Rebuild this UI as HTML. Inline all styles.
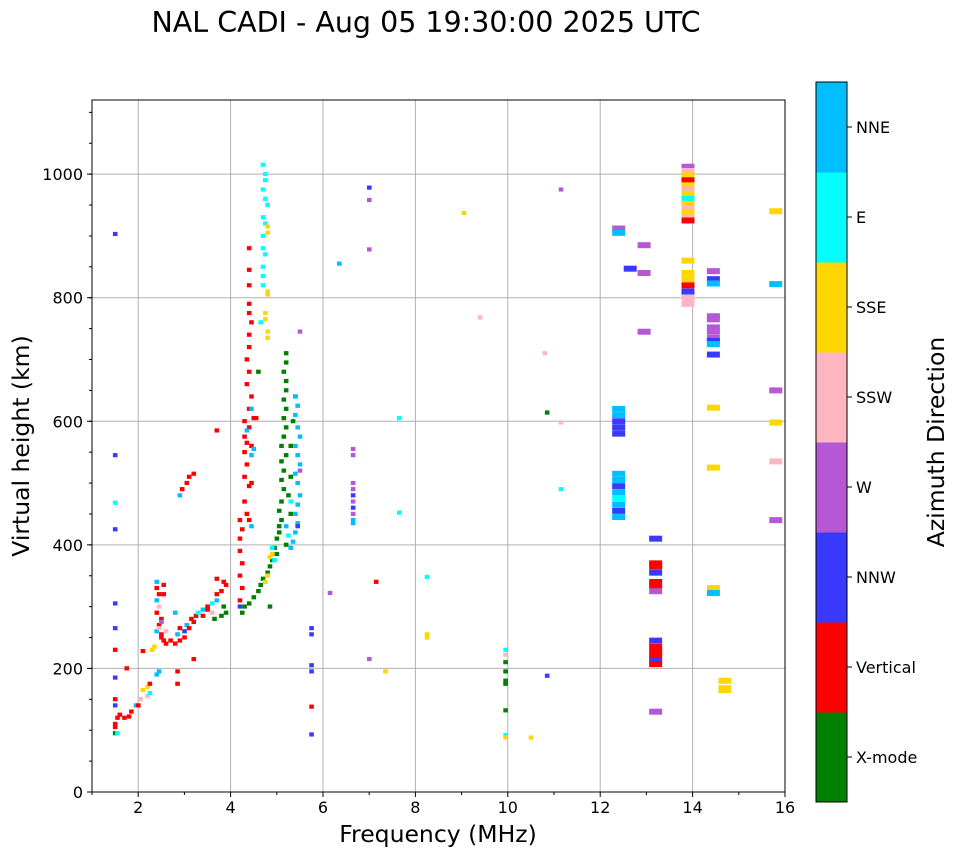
<!DOCTYPE html>
<html><head><meta charset="utf-8"><style>
body{margin:0;background:#fff;font-family:"DejaVu Sans","Liberation Sans",sans-serif}
</style></head><body>
<svg id="c" width="958" height="857" xmlns="http://www.w3.org/2000/svg" font-family="DejaVu Sans, Liberation Sans, sans-serif">
<text x="426" y="32" font-size="28.5" text-anchor="middle">NAL CADI - Aug 05 19:30:00 2025 UTC</text>
<g id="grid"></g><g id="marks"></g><g id="axes"></g><g id="cbar"></g>
</svg>
<script>
const modeNames=["X-mode","Vertical","NNW","W","SSW","SSE","E","NNE"];
const modeColors=["#008000","#ff0000","#3a3aff","#b657d6","#ffb6c1","#ffd700","#00ffff","#00bfff"];
const xTicks=[2,4,6,8,10,12,14,16];
const yTicks=[0,200,400,600,800,1000];
const freqs=[1.5,1.55,1.5,1.5,1.55,1.5,1.5,1.6,1.7,1.8,1.85,1.95,2.0,2.05,2.1,2.2,2.25,2.2,2.25,2.4,2.45,2.3,2.35,2.1,1.5,1.5,1.5,1.5,1.5,1.5,1.5,1.5,1.75,
2.4,2.4,2.45,2.4,2.45,2.4,2.5,2.45,2.4,2.5,2.5,2.55,2.6,2.45,2.5,2.55,2.55,2.6,2.7,2.8,2.9,2.85,2.9,3.0,3.0,3.05,3.1,3.15,3.2,3.25,3.3,3.4,3.4,3.5,3.6,3.7,3.7,3.8,3.85,3.9,3.7,3.85,3.9,3.8,3.65,3.5,3.6,2.8,2.9,2.95,3.05,3.1,3.2,3.7,2.85,2.85,3.2,
4.2,4.2,4.25,4.2,4.25,4.2,4.2,4.25,4.2,4.35,4.3,4.4,4.3,4.35,4.3,4.35,4.3,4.45,4.4,4.3,4.4,4.45,4.35,4.4,4.35,4.4,4.4,4.45,4.4,4.4,4.4,4.4,4.4,4.45,4.35,4.45,4.45,4.4,4.55,4.5,4.5,4.45,
4.7,4.75,4.75,4.7,4.75,4.8,4.7,4.75,4.7,4.8,4.8,4.7,4.75,4.7,4.7,4.7,4.8,4.8,4.75,4.75,4.8,4.8,4.65,
4.25,4.3,4.4,4.5,4.6,4.65,4.7,4.8,4.85,4.9,5.0,4.95,5.0,5.05,5.05,5.1,5.05,5.1,5.15,5.1,5.15,5.1,5.2,5.1,5.15,5.2,5.15,5.2,5.15,5.2,5.2,5.15,5.2,5.2,5.3,5.25,5.3,5.35,5.4,5.3,5.2,4.85,4.6,
5.4,5.45,5.4,5.45,5.5,5.45,5.4,5.5,5.45,5.4,5.5,5.45,5.4,5.45,5.4,5.35,5.3,5.25,5.3,5.2,4.9,4.85,4.8,4.75,4.9,4.95,5.45,5.5,5.5,
6.15,5.75,5.75,5.75,5.75,5.75,5.75,6.35,6.65,6.65,6.65,6.65,6.65,6.65,6.65,6.65,6.65,6.65,7.0,7.0,7.0,7.0,7.15,7.35,7.65,7.65,8.25,8.25,8.25,9.05,9.4,9.95,9.95,9.95,9.95,9.95,9.95,9.95,9.95,9.95,10.8,10.85,10.85,10.5,11.15,11.15,11.15];
const heights=[95,95,105,110,120,140,150,125,120,122,130,140,140,150,165,170,175,155,160,190,195,230,235,228,185,230,265,305,425,468,545,903,200,
340,330,320,310,300,290,280,270,260,255,250,245,240,265,275,335,320,260,245,240,245,255,265,260,250,270,265,280,275,285,290,295,285,300,305,310,320,325,340,335,345,300,290,285,280,295,290,290,480,490,500,510,515,585,195,175,215,
300,310,330,350,370,390,410,425,440,450,470,495,510,530,550,565,575,560,590,600,620,640,660,680,700,720,740,760,775,790,820,845,880,545,585,620,430,440,605,605,555,500,
1015,1000,990,975,960,950,930,920,900,905,915,880,870,850,835,820,810,805,775,765,745,735,760,
290,300,305,315,325,335,345,355,365,375,385,395,410,420,430,440,455,470,490,505,520,535,545,560,575,590,605,620,635,650,665,680,695,710,450,480,510,600,640,560,400,300,680,
420,435,450,465,480,500,515,530,545,560,575,590,610,625,640,405,395,415,470,430,385,380,350,340,395,375,430,520,745,
322,265,255,205,195,138,93,855,555,545,500,490,480,470,460,450,440,435,978,958,878,215,340,195,605,452,348,255,250,937,768,230,222,210,195,180,175,132,92,88,710,614,188,88,598,490,975];
const modes=[0,6,1,1,1,2,1,1,1,1,1,7,1,4,5,5,1,4,6,7,7,5,5,1,2,1,2,2,2,6,2,2,1,
7,1,1,7,4,1,1,1,7,1,1,1,1,4,3,1,1,4,1,1,1,7,1,2,1,7,1,1,1,1,6,7,1,1,6,7,1,1,1,1,1,0,0,0,0,1,4,7,7,1,1,1,1,1,1,1,1,
2,1,1,1,1,1,1,1,1,1,1,1,1,1,1,1,1,1,1,1,1,1,1,1,1,1,1,1,1,1,1,1,1,7,7,7,7,1,1,1,7,1,
6,6,6,6,6,6,6,6,6,5,5,6,6,6,6,6,5,5,5,5,5,5,6,
0,0,0,0,0,0,0,0,0,0,0,0,0,0,0,0,0,0,0,0,0,0,0,0,0,0,0,0,0,0,0,0,0,0,0,0,0,0,0,0,0,0,0,
7,7,7,7,7,7,7,7,7,7,7,7,7,7,7,7,7,6,6,7,5,5,5,5,6,6,2,3,3,
3,2,2,2,2,1,2,7,3,3,3,3,2,3,2,3,7,7,2,3,3,3,1,5,6,6,6,5,5,5,4,6,4,0,0,0,0,0,6,5,4,0,2,5,4,6,3,4];
const wideFreqs=[12.4,12.4,12.4,12.4,12.4,12.4,12.4,12.4,12.4,12.4,12.4,12.4,12.4,12.4,12.4,12.65,12.95,12.95,12.95,13.2,13.2,13.2,13.2,13.2,13.2,13.2,13.2,13.2,13.2,13.2,13.2,13.2,13.2,
13.9,13.9,13.9,13.9,13.9,13.9,13.9,13.9,13.9,13.9,13.9,13.9,13.9,13.9,13.9,13.9,13.9,13.9,13.9,13.9,13.9,
14.45,14.45,14.45,14.45,14.45,14.45,14.45,14.45,14.45,14.45,14.45,14.45,14.45,14.45,14.45,14.7,14.7,14.7,15.8,15.8,15.8,15.8,15.8,15.8];
const wideHeights=[912,905,620,610,600,590,580,515,505,495,485,475,465,455,445,847,885,840,745,410,370,365,355,340,333,325,245,235,228,220,212,207,130,
1012,1005,998,990,982,975,968,960,952,945,938,930,925,860,840,830,820,810,800,795,790,
843,830,823,770,765,752,745,735,730,725,708,622,525,330,322,180,168,165,940,822,650,598,535,440];
const wideModes=[3,7,7,7,2,2,2,7,7,2,7,6,7,2,7,2,3,3,3,2,1,1,2,1,1,3,2,1,1,1,2,1,3,
3,4,5,1,5,4,5,6,5,4,5,4,1,5,5,5,1,2,4,4,4,
3,2,7,3,3,3,3,3,2,7,2,5,5,5,7,5,5,5,5,7,3,5,4,3];
const NS="http://www.w3.org/2000/svg";
const X0=92,X1=785,Y0=792,Y1=100;
const sx=f=>X0+(f-1)*(X1-X0)/15;
const sy=h=>Y0-h*(Y0-Y1)/1120;
function mk(tag,a,parent){const e=document.createElementNS(NS,tag);for(const k in a)e.setAttribute(k,a[k]);parent.appendChild(e);return e;}
const grid=document.getElementById('grid'),marks=document.getElementById('marks'),axes=document.getElementById('axes'),cbar=document.getElementById('cbar');
xTicks.forEach(t=>{if(t<16){const l=mk('line',{x1:sx(t),x2:sx(t),y1:Y1,y2:Y0,stroke:'#b0b0b0','stroke-width':1},grid);

}});
yTicks.forEach(t=>{if(t>0){const l=mk('line',{x1:X0,x2:X1,y1:sy(t),y2:sy(t),stroke:'#b0b0b0','stroke-width':1},grid);

}});
for(let i=0;i<freqs.length;i++){const r=mk('rect',{x:sx(freqs[i])-2.2,y:sy(heights[i])-2.2,width:4.6,height:4.2,fill:modeColors[modes[i]]},marks);

}
for(let i=0;i<wideFreqs.length;i++){const r=mk('rect',{x:sx(wideFreqs[i])-6.5,y:sy(wideHeights[i])-3,width:13,height:6,fill:modeColors[wideModes[i]]},marks);

}
const fr=mk('rect',{x:X0,y:Y1,width:X1-X0,height:Y0-Y1,fill:'none',stroke:'#000','stroke-width':1},axes);


xTicks.forEach(t=>{mk('line',{x1:sx(t),x2:sx(t),y1:Y0,y2:Y0+5,stroke:'#000'},axes);
const tx=mk('text',{x:sx(t),y:Y0+21,'font-size':16,'text-anchor':'middle'},axes);tx.textContent=t;

});
for(let t=1;t<16;t+=2)mk('line',{x1:sx(t),x2:sx(t),y1:Y0,y2:Y0+3,stroke:'#000'},axes);
yTicks.forEach(t=>{mk('line',{x1:X0-5,x2:X0,y1:sy(t),y2:sy(t),stroke:'#000'},axes);
const tx=mk('text',{x:X0-9,y:sy(t)+6,'font-size':16,'text-anchor':'end'},axes);tx.textContent=t;

});
for(let t=50;t<1120;t+=50)mk('line',{x1:X0-3,x2:X0,y1:sy(t),y2:sy(t),stroke:'#000'},axes);
const xl=mk('text',{x:438,y:842,'font-size':23.5,'text-anchor':'middle'},axes);xl.textContent='Frequency (MHz)';


const yl=mk('text',{x:29,y:446,'font-size':23.5,'text-anchor':'middle',transform:'rotate(-90 29 446)'},axes);yl.textContent='Virtual height (km)';


const CX=816,CW=31,CT=82,CB=802,seg=(CB-CT)/8;
modeNames.forEach((n,i)=>{const yT=CB-(i+1)*seg;
const r=mk('rect',{x:CX,y:yT,width:CW,height:seg+0.5,fill:modeColors[i]},cbar);


mk('line',{x1:CX+CW,x2:CX+CW+5,y1:yT+seg/2,y2:yT+seg/2,stroke:'#000'},cbar);
const t=mk('text',{x:CX+CW+9,y:yT+seg/2+6,'font-size':16},cbar);t.textContent=n;

});
mk('rect',{x:CX,y:CT,width:CW,height:CB-CT,fill:'none',stroke:'#000'},cbar);
const ct=mk('text',{x:944,y:442,'font-size':23.5,'text-anchor':'middle',transform:'rotate(-90 944 442)'},cbar);ct.textContent='Azimuth Direction';


</script>
</body></html>
